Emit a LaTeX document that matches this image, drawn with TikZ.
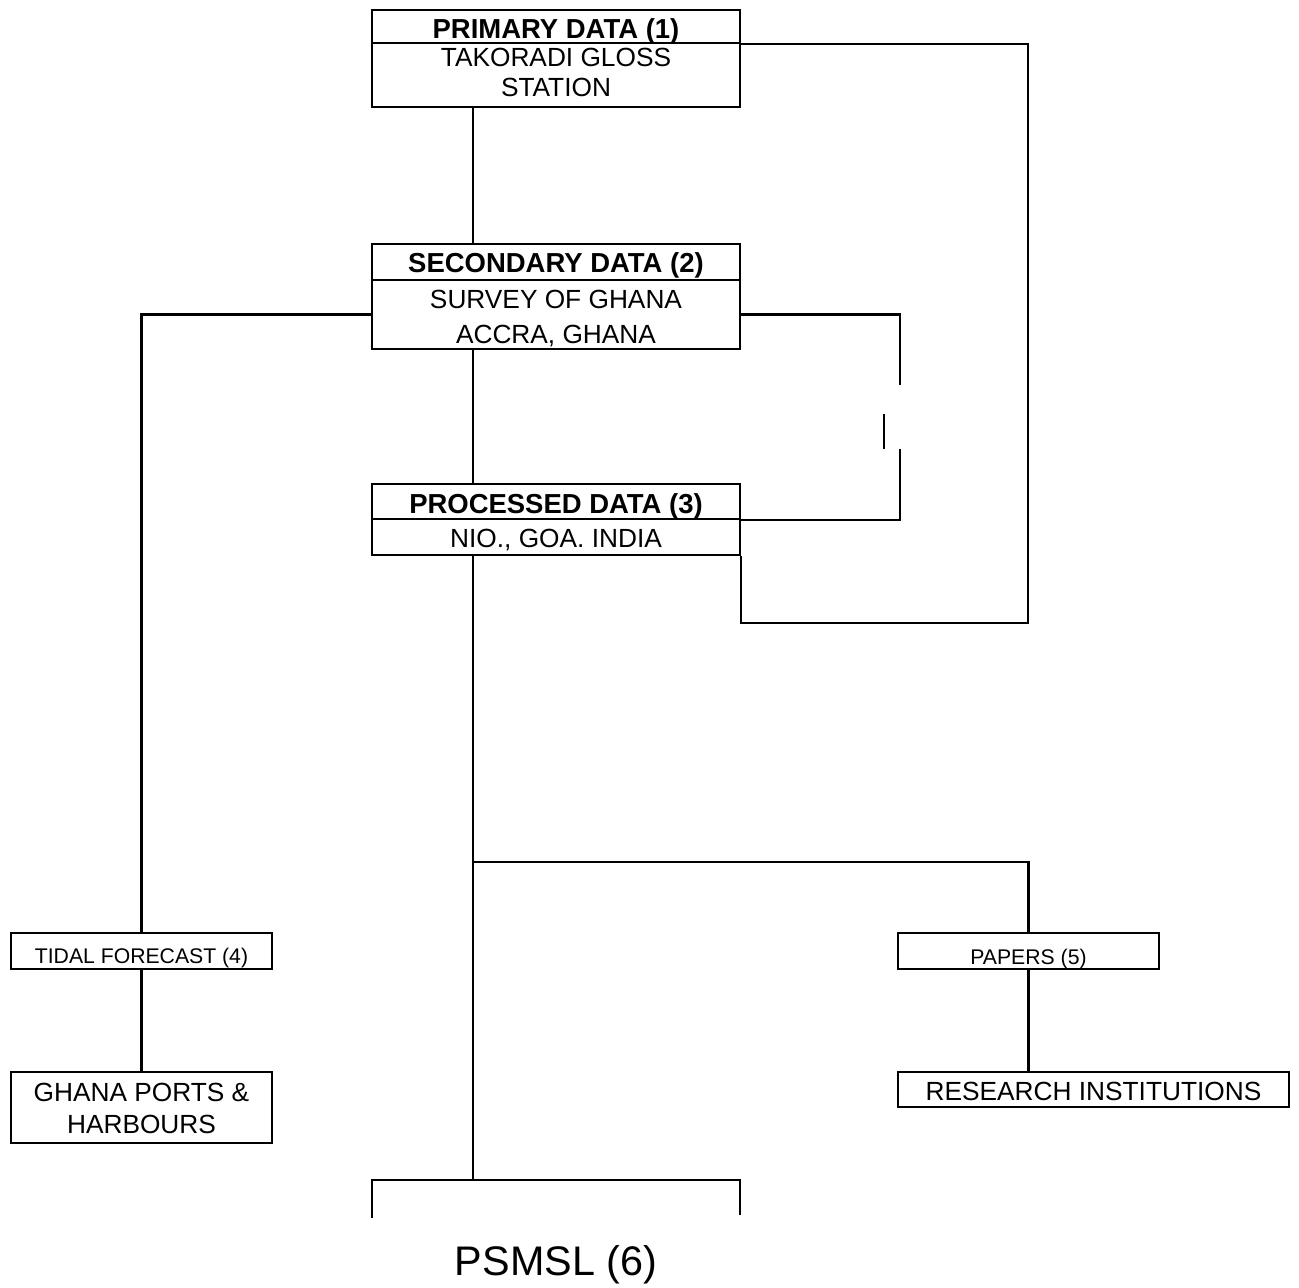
\documentclass[tikz,border=0pt]{standalone}
\usepackage{fontspec}
\setmainfont{Liberation Sans}
\usetikzlibrary{fit,calc}
\tikzset{
  boxpart/.style={draw, line width=1.6pt, inner sep=0pt, rectangle},
  lnk/.style={line width=1.6pt},
  txt/.style={anchor=base, inner sep=0pt, font=\fontsize{19.7}{23}\selectfont},
  hdr/.style={anchor=base, inner sep=0pt, font=\fontsize{20.6}{24}\selectfont\bfseries},
  small/.style={anchor=base, inner sep=0pt, font=\fontsize{15.9}{19}\selectfont},
  big/.style={anchor=base, inner sep=0pt, font=\fontsize{31}{36}\selectfont},
}
\begin{document}
\begin{tikzpicture}[x=0.75pt,y=-0.75pt]
\useasboundingbox (0,0) rectangle (1299,1288);
% boxes
\node[boxpart, fit={(372,10)(740,43)}] (b1h) {};
\node[boxpart, fit={(372,43)(740,107)}] (b1b) {};
\node[boxpart, fit={(372,244)(740,280)}] (b2h) {};
\node[boxpart, fit={(372,280)(740,349)}] (b2b) {};
\node[boxpart, fit={(372,484)(740,519)}] (b3h) {};
\node[boxpart, fit={(372,519)(740,555)}] (b3b) {};
\node[boxpart, fit={(11,933)(272,969)}] (b4) {};
\node[boxpart, fit={(898,933)(1159,969)}] (b5) {};
\node[boxpart, fit={(11,1072)(272,1143)}] (b7) {};
\node[boxpart, fit={(898,1072)(1289,1107)}] (b8) {};
% texts
\node[hdr] (t1a) at (556,39) {PRIMARY DATA (1)};
\node[txt] (t1b) at (556,67) {TAKORADI GLOSS};
\node[txt] (t1c) at (556,97) {STATION};
\node[hdr] (t2a) at (556,272) {SECONDARY DATA (2)};
\node[txt] (t2b) at (556,308) {SURVEY OF GHANA};
\node[txt] (t2c) at (556,343) {ACCRA, GHANA};
\node[hdr] (t3a) at (556,513) {PROCESSED DATA (3)};
\node[txt] (t3b) at (556,547) {NIO., GOA. INDIA};
\node[small] (t4) at (141.5,963) {TIDAL FORECAST (4)};
\node[small] (t5) at (1028.5,964) {PAPERS (5)};
\node[txt] (t7a) at (141.5,1101) {GHANA PORTS \&};
\node[txt] (t7b) at (141.5,1133) {HARBOURS};
\node[txt] (t8) at (1093.5,1100) {RESEARCH INSTITUTIONS};
\node[big] (t6) at (556,1275) {PSMSL (6)};
% helper coordinates
\coordinate (spine) at (473,0);
\coordinate (br) at (473,862);
\coordinate (k1) at (900,385);
\coordinate (k2) at (900,449);
\coordinate (j1) at (884,414);
\coordinate (j2) at (884,449);
\coordinate (r1) at (1028,623);
\coordinate (pa) at (372,1218);
\coordinate (pc) at (473,1180);
\coordinate (pb) at (740,1215);
% connectors
\draw[lnk] (b1b.south -| spine) -- (b2h.north -| spine);
\draw[lnk] (b2b.south -| spine) -- (b3h.north -| spine);
\draw[lnk] (b3b.south -| spine) -- (pc);
\draw[lnk] (br) -| (b5.north);
\draw[lnk] (b2b.west) -| (b4.north);
\draw[lnk] (b4.south) -- (b7.north);
\draw[lnk] (b5.south) -- (b5.south |- b8.north);
\draw[lnk] (b2b.east) -| (k1);
\draw[lnk] (j1) -- (j2);
\draw[lnk] (k2) |- (b3h.south east);
\draw[lnk] (b1h.south east) -| (r1) -| (b3b.south east);
\draw[lnk] (pa) |- (pc) -| (pb);
\end{tikzpicture}
\end{document}
